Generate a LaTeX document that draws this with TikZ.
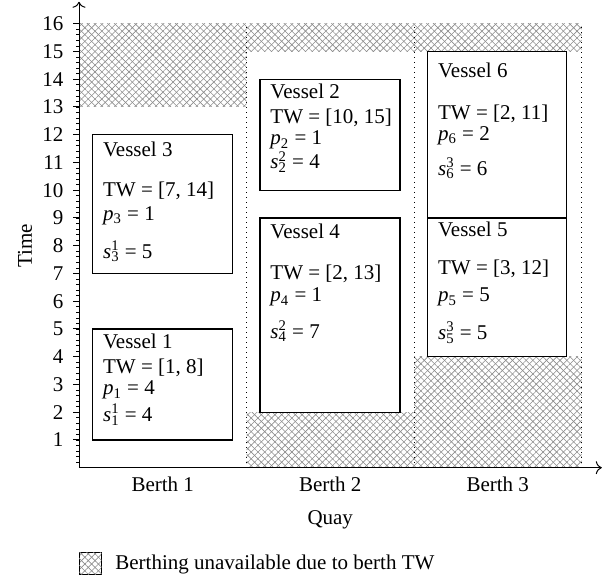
\documentclass[tikz,border=0pt]{standalone}
\usepackage{fontspec}
\setmainfont{Liberation Serif}
\usetikzlibrary{patterns.meta,arrows.meta}
\newcommand{\vsub}[2]{\textit{#1}\textsubscript{#2}}
\newcommand{\vsubsup}[3]{\textit{#1}\rlap{\textsuperscript{#3}}\textsubscript{#2}}
\tikzset{
  xhatch/.style={pattern={Lines[angle=45,distance=2.4pt,line width=0.3pt]},pattern color=black!45,
    postaction={pattern={Lines[angle=-45,distance=2.4pt,line width=0.3pt]},pattern color=black!45}},
  vbox/.style={draw=black,line width=0.6pt},
  vtext/.style={anchor=base west,inner sep=0pt},
  axisline/.style={line width=0.5pt},
  divider/.style={dotted,line width=0.5pt},
  ticklabel/.style={anchor=east,inner sep=0pt},
}
\begin{document}
\begin{tikzpicture}[x=83.75pt,y=13.875pt,font=\fontsize{10.5}{12}\selectfont]
\useasboundingbox (-39.5pt,-56.65pt) rectangle (264.5pt,233.85pt);
% unavailable periods
\fill[xhatch] (0,13) rectangle (1,16);
\fill[xhatch] (1,15) rectangle (3,16);
\fill[xhatch] (1,0) rectangle (2,2);
\fill[xhatch] (2,0) rectangle (3,4);
% berth dividers
\foreach \b in {1,2,3} \draw[divider] (\b,0) -- (\b,16);
% axes
\coordinate (O) at (0,0);
\coordinate (ytip) at (0,16.79);
\coordinate (xtip) at (3.121,0);
\foreach \t in {0.2,0.4,...,16.0} \draw[line width=0.3pt] (0,\t) -- ++(-1.3pt,0);
\foreach \t in {1,...,16} \draw[axisline] (0,\t) -- ++(-3pt,0) node[ticklabel,xshift=-4.5pt] (tick\t) {\t};
\draw[axisline,-{To[length=3pt,width=6.5pt]}] (O) -- (ytip);
\draw[axisline,-{To[length=3pt,width=6.5pt]}] (O) -- (xtip);
\node[anchor=base] (b1) at ([yshift=-12pt]0.5,0) {Berth 1};
\node[anchor=base] (b2) at ([yshift=-12pt]1.5,0) {Berth 2};
\node[anchor=base] (b3) at ([yshift=-12pt]2.5,0) {Berth 3};
\node[anchor=base] (quay) at ([yshift=-28.5pt]1.5,0) {Quay};
\node[rotate=90] (time) at ([xshift=-27pt]0,8) {Time};
% vessels
\draw[vbox] (0.082,5) rectangle (0.915,1);
\coordinate (v1) at ([xshift=5pt]0.082,5);
\node[vtext] at ([yshift=-9.7pt]v1) {Vessel 1};
\node[vtext] at ([yshift=-22.2pt]v1) {TW = [1, 8]};
\node[vtext] at ([yshift=-33pt]v1) {\vsub{p}{1} = 4};
\node[vtext] at ([yshift=-46.4pt]v1) {\vsubsup{s}{1}{1} = 4};

\draw[vbox] (0.082,12) rectangle (0.915,7);
\coordinate (v3) at ([xshift=5pt]0.082,12);
\node[vtext] at ([yshift=-11pt]v3) {Vessel 3};
\node[vtext] at ([yshift=-30.7pt]v3) {TW = [7, 14]};
\node[vtext] at ([yshift=-42.7pt]v3) {\vsub{p}{3} = 1};
\node[vtext] at ([yshift=-61.8pt]v3) {\vsubsup{s}{3}{1} = 5};

\draw[vbox] (1.081,14) rectangle (1.916,10);
\coordinate (v2) at ([xshift=5pt]1.081,14);
\node[vtext] at ([yshift=-9.6pt]v2) {Vessel 2};
\node[vtext] at ([yshift=-22pt]v2) {TW = [10, 15]};
\node[vtext] at ([yshift=-32.9pt]v2) {\vsub{p}{2} = 1};
\node[vtext] at ([yshift=-44.9pt]v2) {\vsubsup{s}{2}{2} = 4};

\draw[vbox] (1.081,9) rectangle (1.916,2);
\coordinate (v4) at ([xshift=5pt]1.081,9);
\node[vtext] at ([yshift=-10.2pt]v4) {Vessel 4};
\node[vtext] at ([yshift=-31pt]v4) {TW = [2, 13]};
\node[vtext] at ([yshift=-41.9pt]v4) {\vsub{p}{4} = 1};
\node[vtext] at ([yshift=-60.2pt]v4) {\vsubsup{s}{4}{2} = 7};

\draw[vbox] (2.082,15) rectangle (2.912,9);
\coordinate (v6) at ([xshift=5pt]2.082,15);
\node[vtext] at ([yshift=-13pt]v6) {Vessel 6};
\node[vtext] at ([yshift=-34pt]v6) {TW = [2, 11]};
\node[vtext] at ([yshift=-44.5pt]v6) {\vsub{p}{6} = 2};
\node[vtext] at ([yshift=-62pt]v6) {\vsubsup{s}{6}{3} = 6};

\draw[vbox] (2.082,9) rectangle (2.912,4);
\coordinate (v5) at ([xshift=5pt]2.082,9);
\node[vtext] at ([yshift=-9.5pt]v5) {Vessel 5};
\node[vtext] at ([yshift=-28.2pt]v5) {TW = [3, 12]};
\node[vtext] at ([yshift=-41.9pt]v5) {\vsub{p}{5} = 5};
\node[vtext] at ([yshift=-61pt]v5) {\vsubsup{s}{5}{3} = 5};
% legend
\draw[xhatch,line width=0.5pt] ([yshift=-42.3pt]0,0) rectangle ([xshift=11.35pt,yshift=-53.65pt]0,0);
\node[anchor=base west,inner sep=0pt] (legend) at ([xshift=18pt,yshift=-50.8pt]0,0) {Berthing unavailable due to berth TW};
\end{tikzpicture}
\end{document}
